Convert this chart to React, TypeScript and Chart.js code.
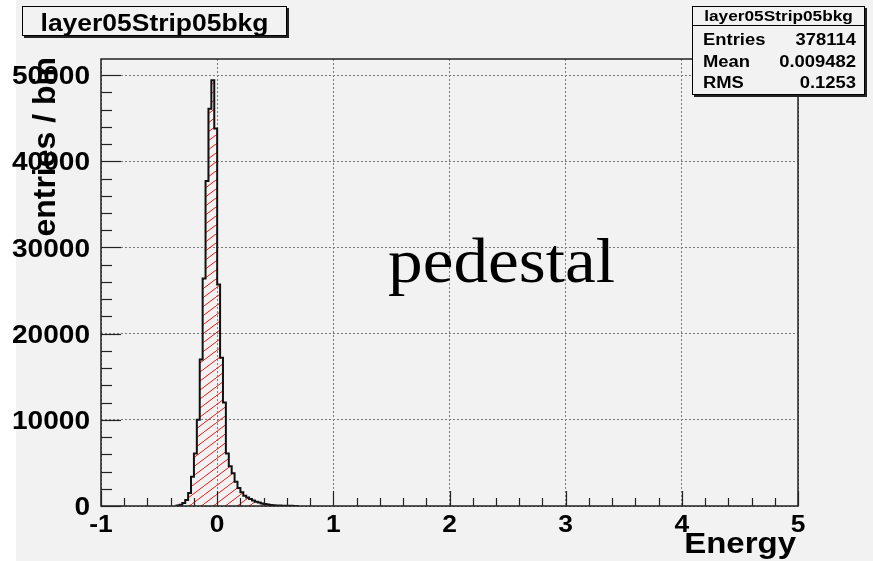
import React, { useEffect, useRef } from 'react';
import { Chart, registerables } from 'chart.js';

Chart.register(...registerables);

// ---------- data ----------
const histTitle = 'layer05Strip05bkg';
const xAxisTitle = 'Energy';
const yAxisTitle = 'entries / bin';
const annotationText = 'pedestal';

const statsLabels = ['Entries', 'Mean', 'RMS'];
const statsValues = ['378114', '0.009482', '0.1253'];

// bin edges (43 edges -> 42 bins)
const binEdges = [
  -0.35, -0.325, -0.3, -0.275, -0.25, -0.225, -0.2, -0.175, -0.15, -0.125,
  -0.1, -0.075, -0.05, -0.025, 0, 0.025, 0.05, 0.075, 0.1, 0.125,
  0.15, 0.175, 0.2, 0.225, 0.25, 0.275, 0.3, 0.325, 0.35, 0.375,
  0.4, 0.425, 0.45, 0.475, 0.5, 0.525, 0.55, 0.575, 0.6, 0.625,
  0.65, 0.675, 0.7,
];
// entries per bin
const binCounts = [
  20, 60, 150, 350, 700, 1500, 3400, 6100, 10000, 17000,
  26400, 37700, 46100, 49400, 43800, 25700, 17200, 12000, 6100, 4600,
  3800, 2800, 2100, 1600, 1200, 1000, 800, 650, 500, 400,
  300, 220, 160, 120, 90, 70, 50, 40, 30, 20,
  15, 10,
];

const xTickValues = [-1, 0, 1, 2, 3, 4, 5];
const xTickLabels = ['-1', '0', '1', '2', '3', '4', '5'];
const yTickValues = [0, 10000, 20000, 30000, 40000, 50000];
const yTickLabels = ['0', '10000', '20000', '30000', '40000', '50000'];

const X_MIN = -1;
const X_MAX = 5;
const Y_MAX = 51870;
const X_MINOR_STEP = 0.2;
const Y_MINOR_STEP = 2000;

// ---------- styling ----------
const SANS = '"Liberation Sans", Arial, Helvetica, sans-serif';
const SERIF = '"Liberation Serif", "Times New Roman", Times, serif';
const BG = '#f2f2f2';

function drawText(
  ctx: CanvasRenderingContext2D,
  text: string,
  x: number,
  y: number,
  font: string,
  align: CanvasTextAlign,
  baseline: CanvasTextBaseline,
  sx: number,
) {
  ctx.save();
  ctx.font = font;
  ctx.textAlign = align;
  ctx.textBaseline = baseline;
  ctx.fillStyle = '#000';
  ctx.translate(x, y);
  ctx.scale(sx, 1);
  ctx.fillText(text, 0, 0);
  ctx.restore();
}

function makeHatch(): CanvasPattern | string {
  const c = document.createElement('canvas');
  c.width = 12;
  c.height = 9;
  const g = c.getContext('2d');
  if (!g) return 'rgba(255,0,0,0.2)';
  g.strokeStyle = 'rgba(240,20,20,1)';
  g.lineWidth = 1;
  g.beginPath();
  g.moveTo(-1, 9 + 9 / 12);
  g.lineTo(13, -9 / 12);
  g.stroke();
  const p = g.createPattern(c, 'repeat');
  return p || 'rgba(255,0,0,0.2)';
}

const rootPlugin = {
  id: 'rootStyle',
  beforeDraw(chart: any) {
    const ctx = chart.ctx as CanvasRenderingContext2D;
    ctx.save();
    ctx.fillStyle = '#ffffff';
    ctx.fillRect(0, 0, chart.width, chart.height);
    ctx.fillStyle = BG;
    ctx.fillRect(16, 0, chart.width - 16, chart.height);
    ctx.restore();
  },
  afterDatasetsDraw(chart: any) {
    const ctx = chart.ctx as CanvasRenderingContext2D;
    const { left, right, top, bottom } = chart.chartArea;
    const xs = chart.scales.x;
    const ys = chart.scales.y;
    ctx.save();
    // frame
    ctx.strokeStyle = '#222';
    ctx.lineWidth = 1.5;
    ctx.strokeRect(left, top, right - left, bottom - top);
    // x ticks (inward)
    ctx.lineWidth = 1.2;
    ctx.strokeStyle = '#222';
    for (let i = 0; X_MIN + i * X_MINOR_STEP <= X_MAX + 1e-9; i++) {
      const v = X_MIN + i * X_MINOR_STEP;
      const isMajor = Math.abs(v - Math.round(v)) < 1e-6;
      const px = Math.round(xs.getPixelForValue(v)) + 0.5;
      ctx.beginPath();
      ctx.moveTo(px, bottom);
      ctx.lineTo(px, bottom - (isMajor ? 15 : 8));
      ctx.stroke();
    }
    // y ticks (inward)
    for (let i = 0; i * Y_MINOR_STEP <= 50000; i++) {
      const v = i * Y_MINOR_STEP;
      const isMajor = v % 10000 === 0;
      const py = Math.round(ys.getPixelForValue(v)) + 0.5;
      ctx.beginPath();
      ctx.moveTo(left, py);
      ctx.lineTo(left + (isMajor ? 20 : 11), py);
      ctx.stroke();
    }
    ctx.restore();
  },
  afterDraw(chart: any) {
    const ctx = chart.ctx as CanvasRenderingContext2D;
    const { left, right, bottom } = chart.chartArea;
    const xs = chart.scales.x;
    const ys = chart.scales.y;

    // x tick labels
    xTickValues.forEach((v, i) => {
      drawText(ctx, xTickLabels[i], xs.getPixelForValue(v), bottom + 26, `bold 24px ${SANS}`, 'center', 'alphabetic', 1.1);
    });
    // y tick labels
    yTickValues.forEach((v, i) => {
      drawText(ctx, yTickLabels[i], left - 11, ys.getPixelForValue(v) + 2, `bold 26px ${SANS}`, 'right', 'middle', 1.08);
    });

    // x axis title
    drawText(ctx, xAxisTitle, right - 2, 553, `bold 30px ${SANS}`, 'right', 'alphabetic', 1.1);

    // y axis title (rotated)
    ctx.save();
    ctx.font = `bold 32px ${SANS}`;
    ctx.fillStyle = '#000';
    ctx.textAlign = 'right';
    ctx.textBaseline = 'alphabetic';
    ctx.translate(55, 57);
    ctx.rotate(-Math.PI / 2);
    ctx.fillText(yAxisTitle, 0, 0);
    ctx.restore();

    // annotation
    drawText(ctx, annotationText, 388, 282, `63px ${SERIF}`, 'left', 'alphabetic', 1.1);

    // title box
    ctx.save();
    ctx.fillStyle = '#222';
    ctx.fillRect(24, 8, 265, 30);
    ctx.fillStyle = BG;
    ctx.fillRect(22, 6, 265, 30);
    ctx.strokeStyle = '#000';
    ctx.lineWidth = 1;
    ctx.strokeRect(22.5, 6.5, 264, 29);
    ctx.restore();
    drawText(ctx, histTitle, 154.5, 30.5, `bold 23px ${SANS}`, 'center', 'alphabetic', 1.15);

    // stats box
    const bx = 692, by = 6, bw = 173, bh = 89;
    ctx.save();
    ctx.fillStyle = '#222';
    ctx.fillRect(bx + 2, by + 2, bw, bh);
    ctx.fillStyle = BG;
    ctx.fillRect(bx, by, bw, bh);
    ctx.strokeStyle = '#000';
    ctx.lineWidth = 1;
    ctx.strokeRect(bx + 0.5, by + 0.5, bw - 1, bh - 1);
    ctx.beginPath();
    ctx.moveTo(bx, 25.5);
    ctx.lineTo(bx + bw, 25.5);
    ctx.stroke();
    ctx.restore();
    drawText(ctx, histTitle, bx + bw / 2, 21, `bold 15px ${SANS}`, 'center', 'alphabetic', 1.15);
    const rowsY = [45, 66.5, 88];
    statsLabels.forEach((lab, i) => {
      drawText(ctx, lab, 703, rowsY[i], `bold 16px ${SANS}`, 'left', 'alphabetic', 1.15);
      drawText(ctx, statsValues[i], 856, rowsY[i], `bold 16px ${SANS}`, 'right', 'alphabetic', 1.15);
    });
  },
};

export default function App() {
  const ref = useRef<HTMLCanvasElement | null>(null);

  useEffect(() => {
    const canvas = ref.current;
    if (!canvas) return;

    const points: { x: number; y: number }[] = [{ x: binEdges[0], y: 0 }];
    binCounts.forEach((c, i) => points.push({ x: binEdges[i], y: c }));
    points.push({ x: binEdges[binEdges.length - 1], y: 0 });

    const chart = new Chart(canvas, {
      type: 'line',
      data: {
        datasets: [
          {
            label: histTitle,
            data: points,
            stepped: 'after',
            borderColor: '#111',
            borderWidth: 2,
            pointRadius: 0,
            fill: 'origin',
            backgroundColor: makeHatch() as any,
            tension: 0,
          },
        ],
      },
      options: {
        animation: false,
        responsive: false,
        devicePixelRatio: 1,
        events: [],
        layout: { padding: { left: 101, right: 75, top: 59, bottom: 55 } },
        plugins: {
          legend: { display: false },
          tooltip: { enabled: false },
          title: { display: false },
        },
        scales: {
          x: {
            type: 'linear',
            min: X_MIN,
            max: X_MAX,
            afterBuildTicks: (s: any) => {
              s.ticks = xTickValues.map((v) => ({ value: v }));
            },
            ticks: { display: false },
            grid: { color: '#7a7a7a', lineWidth: 1, drawTicks: false },
            border: { display: false, dash: [2, 2] },
          },
          y: {
            type: 'linear',
            min: 0,
            max: Y_MAX,
            afterBuildTicks: (s: any) => {
              s.ticks = yTickValues.map((v) => ({ value: v }));
            },
            ticks: { display: false },
            grid: { color: '#7a7a7a', lineWidth: 1, drawTicks: false },
            border: { display: false, dash: [2, 2] },
          },
        },
      },
      plugins: [rootPlugin],
    } as any);

    return () => chart.destroy();
  }, []);

  return (
    <div style={{ position: 'absolute', left: 0, top: 0, width: 873, height: 561 }}>
      <canvas ref={ref} width={873} height={561} style={{ display: 'block', width: 873, height: 561 }} />
    </div>
  );
}
